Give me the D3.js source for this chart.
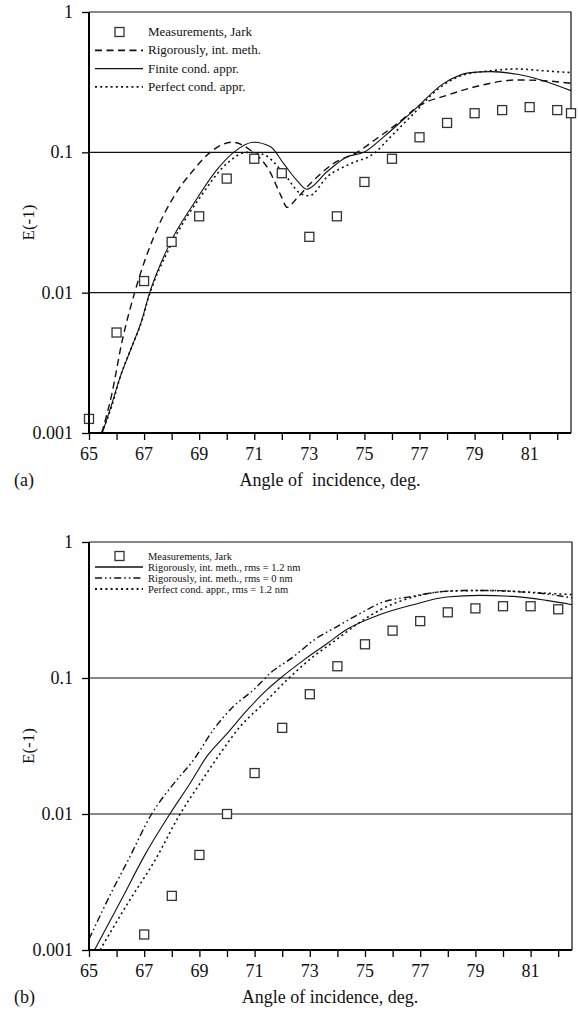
<!DOCTYPE html>
<html>
<head>
<meta charset="UTF-8">
<script src="https://d3js.org/d3.v7.min.js"></script>
<style>
  body { margin: 0; background: #fff; }
  svg text { font-family: "Liberation Serif", "Times New Roman", serif; fill: #111; }
</style>
</head>
<body>
<svg width="578" height="1027"></svg>
<script>
// ---- data, panel (a) ----
var measA_x = [65, 66, 67, 68, 69, 70, 71, 72, 73, 74, 75, 76, 77, 78, 79, 80, 81, 82, 82.5];
var measA_y = [0.00126, 0.0052, 0.0121, 0.023, 0.035, 0.065, 0.09, 0.071, 0.025, 0.035, 0.0615, 0.09, 0.128, 0.162, 0.19, 0.2, 0.21, 0.2, 0.19];

var rigA_x = [65.46, 65.82, 66.19, 66.7, 67.46, 68.07, 68.8, 69.4, 70.19, 70.85, 71.58, 71.95, 72.2, 72.5, 73.04, 73.87, 74.73, 75.46, 76.19, 77.04, 78.0, 79.1, 80.55, 81.4, 82.5];
var rigA_y = [0.001, 0.00186, 0.0044, 0.0107, 0.028, 0.048, 0.075, 0.1, 0.118, 0.104, 0.072, 0.05, 0.0405, 0.046, 0.06, 0.083, 0.1, 0.126, 0.16, 0.218, 0.255, 0.296, 0.328, 0.325, 0.31];

var finA_x = [65.46, 65.76, 66.13, 66.55, 66.92, 67.16, 67.94, 68.8, 69.64, 70.25, 70.97, 71.58, 72.07, 72.55, 72.9, 73.65, 74.37, 74.98, 75.7, 76.8, 77.88, 78.85, 79.58, 80.55, 81.4, 82.5];
var finA_y = [0.00097, 0.00146, 0.0025, 0.0041, 0.0064, 0.0094, 0.0225, 0.043, 0.075, 0.1, 0.118, 0.11, 0.083, 0.063, 0.0546, 0.073, 0.093, 0.1, 0.129, 0.2, 0.31, 0.37, 0.376, 0.36, 0.328, 0.275];

var perA_x = [65.46, 65.8, 66.13, 66.55, 66.92, 67.16, 67.94, 69.04, 70.0, 70.73, 71.3, 72.07, 72.67, 73.0, 73.65, 74.5, 75.34, 75.95, 76.8, 77.64, 78.6, 79.58, 80.55, 81.5, 82.5];
var perA_y = [0.001, 0.0015, 0.0025, 0.0041, 0.0063, 0.0092, 0.0212, 0.048, 0.083, 0.1, 0.097, 0.071, 0.051, 0.049, 0.067, 0.083, 0.098, 0.129, 0.19, 0.279, 0.356, 0.381, 0.393, 0.381, 0.37];

// ---- data, panel (b) ----
var measB_x = [67, 68, 69, 70, 71, 72, 73, 74, 75, 76, 77, 78, 79, 80, 81, 82];
var measB_y = [0.0013, 0.0025, 0.005, 0.01, 0.02, 0.043, 0.076, 0.122, 0.177, 0.223, 0.262, 0.304, 0.325, 0.337, 0.337, 0.32];

var rig12B_x = [65.2, 66.2, 67.0, 67.93, 68.67, 69.27, 70.0, 70.73, 71.45, 71.94, 72.79, 73.64, 74.35, 75.55, 76.75, 77.96, 79.16, 80.37, 81.57, 82.5];
var rig12B_y = [0.001, 0.0024, 0.0049, 0.01, 0.0169, 0.0265, 0.039, 0.058, 0.082, 0.1, 0.136, 0.18, 0.228, 0.293, 0.346, 0.394, 0.405, 0.398, 0.372, 0.346];

var rig0B_x = [65.0, 65.87, 66.4, 67.27, 68.1, 68.79, 69.52, 70.24, 70.97, 71.58, 72.42, 73.15, 74.0, 74.85, 75.55, 76.75, 77.7, 78.66, 79.6, 80.6, 81.57, 82.5];
var rig0B_y = [0.0012, 0.0028, 0.0045, 0.01, 0.017, 0.025, 0.042, 0.062, 0.082, 0.109, 0.144, 0.19, 0.24, 0.30, 0.355, 0.40, 0.43, 0.44, 0.44, 0.43, 0.415, 0.388];

var perB_x = [65.4, 66.4, 67.4, 68.3, 69.03, 69.76, 70.48, 71.33, 72.18, 73.15, 73.88, 74.85, 75.55, 76.75, 77.96, 79.16, 80.37, 81.57, 82.5];
var perB_y = [0.001, 0.0022, 0.0046, 0.01, 0.0169, 0.028, 0.044, 0.065, 0.097, 0.145, 0.186, 0.26, 0.317, 0.394, 0.434, 0.44, 0.434, 0.42, 0.41];

var xTicks = d3.range(65, 83, 1);
var xLabels = d3.range(65, 82, 2);
var yTicks = [0.001, 0.01, 0.1, 1];
var yLabels = ["0.001", "0.01", "0.1", "1"];

var legendA = ["Measurements, Jark", "Rigorously, int. meth.", "Finite cond. appr.", "Perfect cond. appr."];
var legendB = ["Measurements, Jark", "Rigorously, int. meth., rms = 1.2 nm", "Rigorously, int. meth., rms = 0 nm", "Perfect cond. appr., rms = 1.2 nm"];

var styles = {
  dashed:  { dash: "7,4.5", width: 1.4 },
  solid:   { dash: null, width: 1.1 },
  dotted:  { dash: "2,3.2", width: 1.6 },
  dashdot: { dash: "7,3,1.6,3,1.6,3", width: 1.4 }
};

function zip(xs, ys) { return xs.map(function(x, i) { return [x, ys[i]]; }); }

var svg = d3.select("svg");

function panel(opt) {
  var x = d3.scaleLinear().domain([65, 82.5]).range([89, opt.right]);
  var y = d3.scaleLog().domain([0.001, 1]).range([opt.bottom, opt.top]);
  var g = svg.append("g");

  g.append("clipPath").attr("id", opt.id)
    .append("rect").attr("x", 89).attr("y", opt.top)
    .attr("width", opt.right - 89).attr("height", opt.bottom - opt.top);

  // grid lines at 0.1 and 0.01
  g.selectAll("line.grid").data([0.01, 0.1]).enter().append("line")
    .attr("x1", 89).attr("x2", opt.right)
    .attr("y1", function(d) { return y(d); }).attr("y2", function(d) { return y(d); })
    .attr("stroke", "#111").attr("stroke-width", 1.1);

  // top + right frame
  g.append("path")
    .attr("d", "M89," + y(1) + "H" + opt.right + "V" + opt.bottom)
    .attr("fill", "none").attr("stroke", "#111").attr("stroke-width", 1.2);

  // curves
  var line = d3.line()
    .x(function(d) { return x(d[0]); })
    .y(function(d) { return y(d[1]); })
    .curve(d3.curveMonotoneX);
  var cg = g.append("g").attr("clip-path", "url(#" + opt.id + ")");
  opt.curves.forEach(function(c) {
    cg.append("path").datum(zip(c.xs, c.ys))
      .attr("d", line)
      .attr("fill", "none").attr("stroke", "#111")
      .attr("stroke-width", c.style.width)
      .attr("stroke-dasharray", c.style.dash);
  });

  // measurement squares
  g.selectAll("rect.meas").data(zip(opt.mx, opt.my)).enter().append("rect")
    .attr("x", function(d) { return x(d[0]) - 4.5; })
    .attr("y", function(d) { return y(d[1]) - 4.5; })
    .attr("width", 9).attr("height", 9)
    .attr("fill", "#fff").attr("stroke", "#333").attr("stroke-width", 1.3);

  // axes
  var xAxis = d3.axisBottom(x).tickValues(xTicks).tickSize(7).tickFormat("");
  g.append("g").attr("transform", "translate(0," + opt.bottom + ")").call(xAxis)
    .call(function(s) {
      s.select(".domain").attr("stroke-width", 2).attr("d", "M89,0H" + opt.right);
      s.selectAll(".tick line").attr("stroke-width", 1.3);
    });
  g.selectAll("text.xl").data(xLabels).enter().append("text")
    .attr("x", function(d) { return x(d); }).attr("y", opt.bottom + 27)
    .attr("text-anchor", "middle").attr("font-size", 18).text(function(d) { return d; });

  var yAxis = d3.axisLeft(y).tickValues(yTicks).tickSize(7).tickFormat("");
  g.append("g").attr("transform", "translate(89,0)").call(yAxis)
    .call(function(s) {
      s.select(".domain").attr("stroke-width", 2).attr("d", "M0," + opt.top + "V" + opt.bottom);
      s.selectAll(".tick line").attr("stroke-width", 1.3);
    });
  g.selectAll("text.yl").data(yTicks).enter().append("text")
    .attr("x", 73).attr("y", function(d) { return y(d) + 6; })
    .attr("text-anchor", "end").attr("font-size", 18)
    .text(function(d, i) { return yLabels[i]; });

  g.append("text")
    .attr("transform", "translate(34," + ((opt.top + opt.bottom) / 2) + ") rotate(-90)")
    .attr("text-anchor", "middle").attr("font-size", 17).text("E(-1)");

  g.append("text").attr("x", 14).attr("y", opt.bottom + 53)
    .attr("font-size", 18).text(opt.tag);
  g.append("text").attr("x", 330).attr("y", opt.bottom + 53)
    .attr("text-anchor", "middle").attr("font-size", 18).text(opt.xtitle);

  // legend
  var lg = g.append("g");
  opt.legend.forEach(function(txt, i) {
    var ly = opt.legY + i * opt.legStep;
    if (i === 0) {
      lg.append("rect").attr("x", 115).attr("y", ly - 4.5).attr("width", 9).attr("height", 9)
        .attr("fill", "#fff").attr("stroke", "#333").attr("stroke-width", 1.3);
    } else {
      var st = opt.curves[i - 1].style;
      lg.append("line").attr("x1", 95).attr("x2", 143).attr("y1", ly).attr("y2", ly)
        .attr("stroke", "#111").attr("stroke-width", st.width + 0.3)
        .attr("stroke-dasharray", st.dash);
    }
    lg.append("text").attr("x", 148).attr("y", ly + 4)
      .attr("font-size", opt.legFont).text(txt);
  });
}

panel({
  id: "clipA", top: 12, bottom: 433, right: 571, tag: "(a)",
  xtitle: "Angle of\u00a0 incidence, deg.",
  mx: measA_x, my: measA_y,
  curves: [
    { xs: rigA_x, ys: rigA_y, style: styles.dashed },
    { xs: finA_x, ys: finA_y, style: styles.solid },
    { xs: perA_x, ys: perA_y, style: styles.dotted }
  ],
  legend: legendA, legY: 32, legStep: 18.3, legFont: 13
});

panel({
  id: "clipB", top: 542, bottom: 950, right: 572, tag: "(b)",
  xtitle: "Angle of incidence, deg.",
  mx: measB_x, my: measB_y,
  curves: [
    { xs: rig12B_x, ys: rig12B_y, style: styles.solid },
    { xs: rig0B_x, ys: rig0B_y, style: styles.dashdot },
    { xs: perB_x, ys: perB_y, style: styles.dotted }
  ],
  legend: legendB, legY: 556, legStep: 11, legFont: 10.5
});
</script>
</body>
</html>
